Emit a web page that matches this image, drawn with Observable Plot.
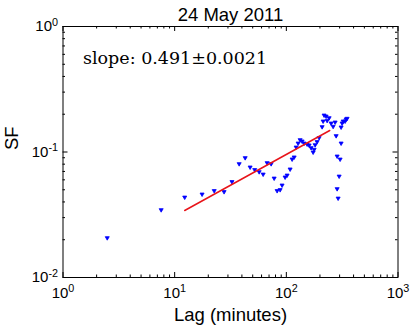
<!DOCTYPE html>
<html>
<head>
<meta charset="utf-8">
<script src="https://cdn.jsdelivr.net/npm/d3@7"></script>
<script src="https://cdn.jsdelivr.net/npm/@observablehq/plot@0.6"></script>
<style>
  html, body { margin: 0; padding: 0; background: #fff; }
  svg { font-family: "Liberation Sans", Arial, sans-serif; }
</style>
</head>
<body>
<div id="chart"></div>
<script>
// Structure-function data (lag in minutes, SF)
const lag = [2.49, 7.57, 12.3, 17.6, 22.6, 27.7, 32.6, 37.8, 42.8, 47.4, 52.1, 57.1, 62.0, 67.3, 73.1, 77.8, 82.7, 88.0, 91.6, 97.5, 101.6, 108.1, 112.7, 117.5, 122.4, 127.5, 132.9, 138.5, 144.3, 153.6, 160.0, 166.7, 173.8, 177.4, 181.1, 188.6, 196.6, 209.2, 213.6, 217.9, 227.2, 231.9, 241.7, 251.9, 262.5, 273.5, 279.3, 285.1, 297.1, 285.1, 291.0, 303.2, 309.5, 309.5, 316.0, 322.5, 336.0, 343.0, 350.0];
const sf = [0.0207, 0.0346, 0.0436, 0.0461, 0.0491, 0.0482, 0.0579, 0.0805, 0.0899, 0.0757, 0.0722, 0.0695, 0.0665, 0.0820, 0.0805, 0.0618, 0.0491, 0.0500, 0.0544, 0.0630, 0.0653, 0.0730, 0.0877, 0.0910, 0.1092, 0.1175, 0.125, 0.122, 0.1175, 0.1154, 0.1133, 0.108, 0.0996, 0.1047, 0.114, 0.1206, 0.1298, 0.1588, 0.176, 0.1964, 0.1928, 0.178, 0.187, 0.1696, 0.1597, 0.1728, 0.1346, 0.0926, 0.0641, 0.0509, 0.0428, 0.0876, 0.1175, 0.1577, 0.1696, 0.176, 0.176, 0.1826, 0.185];

// Fitted power-law line endpoints
const fitLag = [12.3, 244.7];
const fitSF = [0.0342, 0.1484];

// Tick labels
const xMajor = [1, 10, 100, 1000];
const xMajorLabels = ["10^0", "10^1", "10^2", "10^3"];
const yMajor = [0.01, 0.1, 1];
const yMajorLabels = ["10^-2", "10^-1", "10^0"];
const minorMult = [2, 3, 4, 5, 6, 7, 8, 9];
const xMinor = [1, 10, 100].flatMap(d => minorMult.map(m => m * d));
const yMinor = [0.01, 0.1].flatMap(d => minorMult.map(m => m * d));

const titleText = "24 May 2011";
const slopeText = "slope: 0.491\u00b10.0021";
const xLabel = "Lag (minutes)";
const yLabel = "SF";

const points = lag.map((x, i) => ({x, y: sf[i]}));
const fit = fitLag.map((x, i) => ({x, y: fitSF[i]}));

const W = 415, H = 331, mL = 62.5, mR = 17.5, mT = 26, mB = 54;
const ph = H - mT - mB;
const pw = W - mL - mR;
const majLen = 5, minLen = 2.5;

const xt = xMajor.map((v, i) => ({v, t: xMajorLabels[i]}));
const yt = yMajor.map((v, i) => ({v, t: yMajorLabels[i]}));

const svg = Plot.plot({
  width: W, height: H,
  marginLeft: mL, marginRight: mR, marginTop: mT, marginBottom: mB,
  style: {fontFamily: "'Liberation Sans', Arial, sans-serif", background: "#fff", overflow: "visible"},
  x: {type: "log", domain: [1, 1000], axis: null},
  y: {type: "log", domain: [0.01, 1], axis: null},
  marks: [
    // inward ticks, bottom & top
    Plot.tickX(xMajor, {x: d => d, insetTop: ph - majLen, stroke: "black", strokeWidth: 1}),
    Plot.tickX(xMajor, {x: d => d, insetBottom: ph - majLen, stroke: "black", strokeWidth: 1}),
    Plot.tickX(xMinor, {x: d => d, insetTop: ph - minLen, stroke: "black", strokeWidth: 1}),
    Plot.tickX(xMinor, {x: d => d, insetBottom: ph - minLen, stroke: "black", strokeWidth: 1}),
    // inward ticks, left & right
    Plot.tickY(yMajor, {y: d => d, insetRight: pw - majLen, stroke: "black", strokeWidth: 1}),
    Plot.tickY(yMajor, {y: d => d, insetLeft: pw - majLen, stroke: "black", strokeWidth: 1}),
    Plot.tickY(yMinor, {y: d => d, insetRight: pw - minLen, stroke: "black", strokeWidth: 1}),
    Plot.tickY(yMinor, {y: d => d, insetLeft: pw - minLen, stroke: "black", strokeWidth: 1}),
    Plot.frame({stroke: "black", strokeWidth: 1}),
    // data
    Plot.dot(points, {x: "x", y: "y", symbol: "triangle", rotate: 180, r: 1.5, fill: "#0000ff", stroke: "#0000ff", strokeWidth: 0.8}),
    Plot.line(fit, {x: "x", y: "y", stroke: "#e8141a", strokeWidth: 1.5}),
    // tick labels
    Plot.text(xt, {x: "v", text: "t", frameAnchor: "bottom", lineAnchor: "bottom", dy: 20, fontSize: 15, fill: "black"}),
    Plot.text(yt, {y: "v", text: "t", frameAnchor: "left", textAnchor: "end", lineAnchor: "middle", dx: -5, fontSize: 15, fill: "black"}),
    // title, annotation, labels
    Plot.text([titleText], {text: d => d, frameAnchor: "top", lineAnchor: "bottom", dy: -6, fontSize: 18.5, fill: "black"}),
    Plot.text([slopeText], {text: d => d, frameAnchor: "top-left", textAnchor: "start", lineAnchor: "bottom", dx: 20, dy: 37.3, fontSize: 17.5, fontFamily: "'DejaVu Serif', serif", fill: "black"}),
    Plot.text([xLabel], {text: d => d, frameAnchor: "bottom", lineAnchor: "bottom", dy: 43, fontSize: 18.5, fill: "black"}),
    Plot.text([yLabel], {text: d => d, frameAnchor: "left", lineAnchor: "bottom", rotate: -90, dx: -45.5, dy: -2, fontSize: 18.5, fill: "black"})
  ]
});

// superscript exponents
d3.select(svg).selectAll("text").each(function() {
  const m = this.textContent.match(/^10\^(-?\d+)$/);
  if (m) {
    const s = d3.select(this);
    s.text("");
    s.append("tspan").text("10");
    s.append("tspan").attr("dy", "-0.5em").attr("font-size", "0.72em").text(m[1]);
  }
});

document.getElementById("chart").appendChild(svg);
</script>
</body>
</html>
